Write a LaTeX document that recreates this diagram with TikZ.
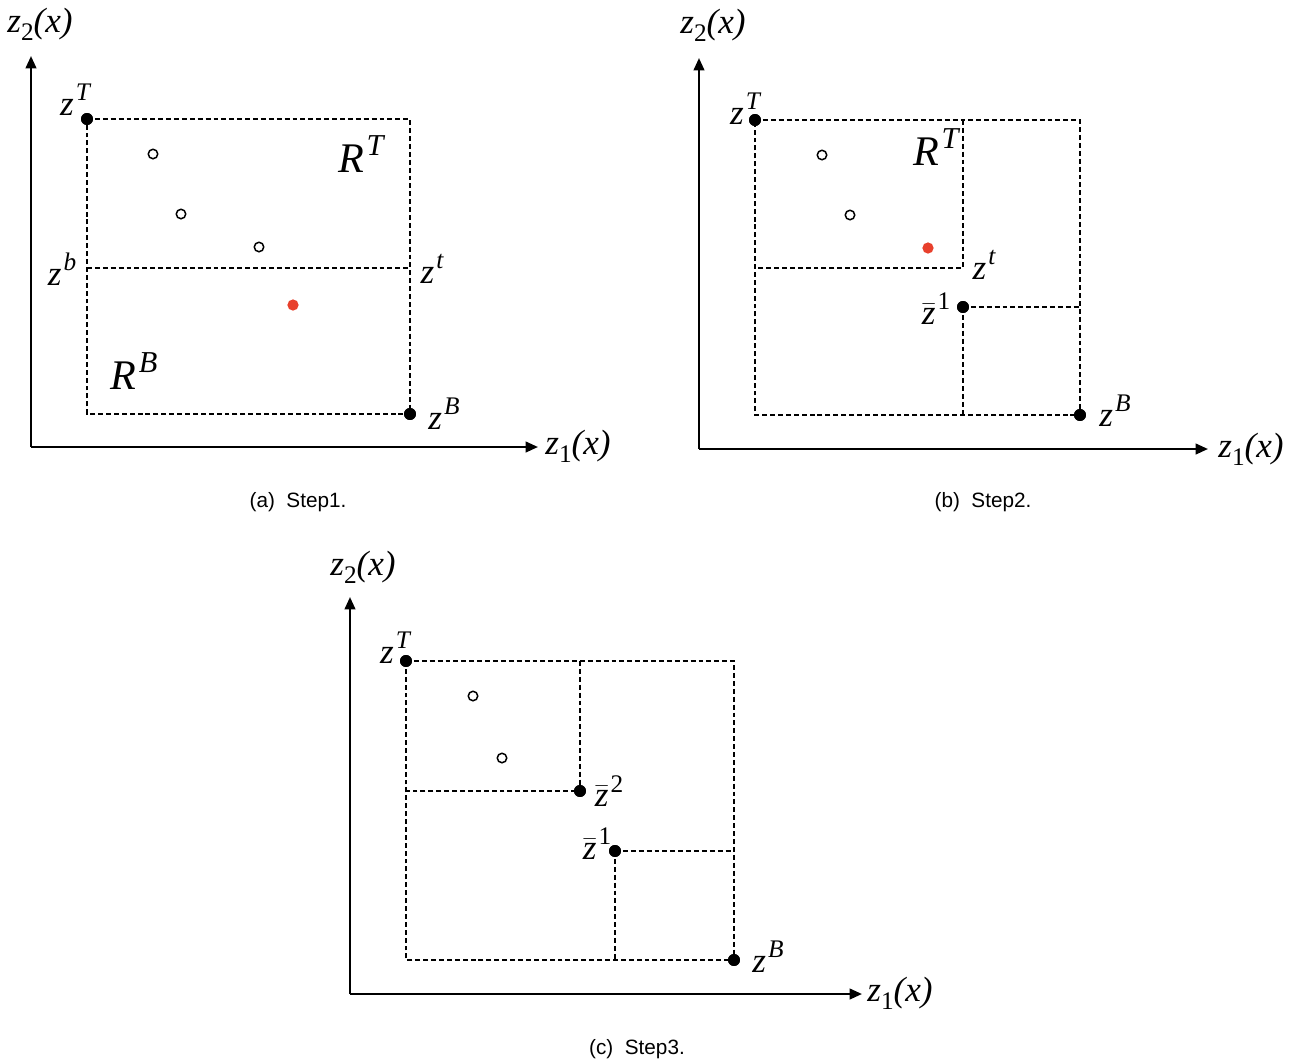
\documentclass[tikz,border=0pt]{standalone}
\usepackage{fontspec}
\setmainfont{Liberation Serif}
\newfontfamily\capfont{Liberation Sans}
\usetikzlibrary{arrows.meta}
\definecolor{ptred}{RGB}{232,64,44}
\tikzset{
  axis/.style={line width=1.3pt, -{Triangle[length=7pt,width=6pt]}},
  dline/.style={line width=0.95pt, dash pattern=on 2.8pt off 1.7pt},
  bdot/.style={circle, fill=black, inner sep=0pt, minimum size=6.8pt},
  rdot/.style={circle, fill=ptred, inner sep=0pt, minimum size=6.4pt},
  odot/.style={circle, draw=black, line width=0.85pt, inner sep=0pt, minimum size=5.4pt},
  lab/.style={font=\fontsize{20}{24}\selectfont\itshape, inner sep=0pt},
  rlab/.style={font=\fontsize{24}{28}\selectfont\itshape, inner sep=0pt},
  captxt/.style={font=\fontsize{11.8}{13}\selectfont\capfont, inner sep=0pt}
}
\newcommand{\mysup}[1]{\kern0.06em\raisebox{0.42em}{\fontsize{0.72em}{1em}\selectfont #1}}
\newcommand{\mysub}[1]{\raisebox{-0.22em}{\fontsize{0.72em}{1em}\selectfont\upshape #1}}
\newcommand{\zbar}{$\bar{\mbox{\itshape z}}$}
\begin{document}
\begin{tikzpicture}[x=0.02cm, y=-0.02cm]
\useasboundingbox (0,0) rectangle (1299,1063);
% ---------------- (a) ----------------
\coordinate (aO) at (31,447);
\coordinate (aY) at (31,56);
\coordinate (aX) at (538,447);
\draw[axis] (aO) -- (aY);
\draw[axis] (aO) -- (aX);
\coordinate (aTR) at (410,119);
\coordinate (aBL) at (87,414);
\coordinate (ab) at (87,268);
\coordinate (at) at (410,268);
\node[bdot] (aT) at (87,119) {};
\node[bdot] (aB) at (410,414) {};
\draw[dline] (aT.center) -- (aTR) -- (aB.center) -- (aBL) -- (aT.center);
\draw[dline] (ab) -- (at);
\node[bdot] at (aT) {};
\node[bdot] at (aB) {};
\node[odot] (a1) at (153,154) {};
\node[odot] (a2) at (181,214) {};
\node[odot] (a3) at (259,247) {};
\node[rdot] (ar) at (293,305) {};
\node[lab] (alz2) at (40,24) {z\mysub{2}(x)};
\node[lab] (alzT) at (75,100) {z\mysup{T}};
\node[rlab] (alRT) at (361,154) {R\mysup{T}};
\node[lab] (alzb) at (62,269) {z\mysup{b}};
\node[lab] (alzt) at (432,269) {z\mysup{t}};
\node[rlab] (alRB) at (134,371) {R\mysup{B}};
\node[lab] (alzB) at (444,414) {z\mysup{B}};
\node[lab] (alz1) at (578,446) {z\mysub{1}(x)};
\node[captxt] (acap) at (298,502) {(a)\ \ Step1.};
% ---------------- (b) ----------------
\coordinate (bO) at (699,449);
\coordinate (bY) at (699,58);
\coordinate (bX) at (1208,449);
\draw[axis] (bO) -- (bY);
\draw[axis] (bO) -- (bX);
\coordinate (bTR) at (1080,120);
\coordinate (bBL) at (755,415);
\coordinate (bTm) at (963,120);
\coordinate (bt) at (963,268);
\coordinate (bL) at (755,268);
\coordinate (bR1) at (1080,307);
\coordinate (bB1) at (963,415);
\node[bdot] (bT) at (755,120) {};
\node[bdot] (bB) at (1080,415) {};
\node[bdot] (b1) at (963,307) {};
\draw[dline] (bT.center) -- (bTR) -- (bB.center) -- (bBL) -- (bT.center);
\draw[dline] (bTm) -- (bt) -- (bL);
\draw[dline] (b1.center) -- (bR1);
\draw[dline] (b1.center) -- (bB1);
\node[bdot] at (bT) {};
\node[bdot] at (bB) {};
\node[bdot] at (b1) {};
\node[odot] (bo1) at (822,155) {};
\node[odot] (bo2) at (850,215) {};
\node[rdot] (br) at (928,248) {};
\node[lab] (blz2) at (713,25) {z\mysub{2}(x)};
\node[lab] (blzT) at (745,109) {z\mysup{T}};
\node[rlab] (blRT) at (936,147) {R\mysup{T}};
\node[lab] (blzt) at (984,265) {z\mysup{t}};
\node[lab] (blz1b) at (936,309) {\zbar\mysup{\upshape 1}};
\node[lab] (blzB) at (1115,411) {z\mysup{B}};
\node[lab] (blz1) at (1251,449) {z\mysub{1}(x)};
\node[captxt] (bcap) at (983,502) {(b)\ \ Step2.};
% ---------------- (c) ----------------
\coordinate (cO) at (350,994);
\coordinate (cY) at (350,597);
\coordinate (cX) at (862,994);
\draw[axis] (cO) -- (cY);
\draw[axis] (cO) -- (cX);
\coordinate (cTR) at (734,661);
\coordinate (cBL) at (406,960);
\coordinate (cTm) at (580,661);
\coordinate (cL2) at (406,791);
\coordinate (cR1) at (734,851);
\coordinate (cB1) at (615,960);
\node[bdot] (cT) at (406,661) {};
\node[bdot] (cB) at (734,960) {};
\node[bdot] (c2) at (580,791) {};
\node[bdot] (c1) at (615,851) {};
\draw[dline] (cT.center) -- (cTR) -- (cB.center) -- (cBL) -- (cT.center);
\draw[dline] (cTm) -- (c2.center) -- (cL2);
\draw[dline] (c1.center) -- (cR1);
\draw[dline] (c1.center) -- (cB1);
\node[bdot] at (cT) {};
\node[bdot] at (cB) {};
\node[bdot] at (c2) {};
\node[bdot] at (c1) {};
\node[odot] (co1) at (473,696) {};
\node[odot] (co2) at (502,758) {};
\node[lab] (clz2) at (363,567) {z\mysub{2}(x)};
\node[lab] (clzT) at (395,648) {z\mysup{T}};
\node[lab] (clz2b) at (609,791) {\zbar\mysup{\upshape 2}};
\node[lab] (clz1b) at (597,844) {\zbar\mysup{\upshape 1}};
\node[lab] (clzB) at (768,957) {z\mysup{B}};
\node[lab] (clz1) at (900,993) {z\mysub{1}(x)};
\node[captxt] (ccap) at (637,1049) {(c)\ \ Step3.};
\end{tikzpicture}
\end{document}
